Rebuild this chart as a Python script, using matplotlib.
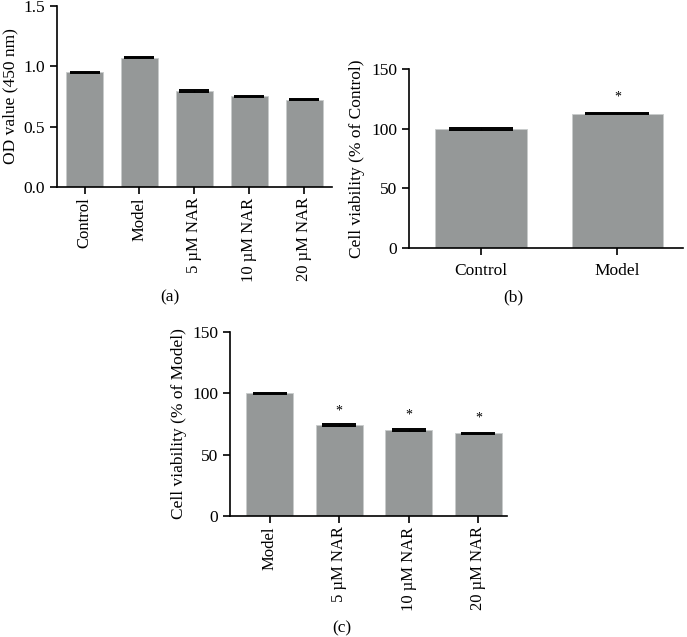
import matplotlib
matplotlib.use("Agg")
import matplotlib.pyplot as plt

plt.rcParams['font.family'] = ['Liberation Serif', 'DejaVu Serif']

# panel (a) OD values
a_groups = ['Control', 'Model', '5 µM NAR', '10 µM NAR', '20 µM NAR']
a_values = [0.95, 1.07, 0.795, 0.752, 0.722]
a_errors = [0.006, 0.005, 0.005, 0.006, 0.004]

# panel (b) viability, % of control
b_groups = ['Control', 'Model']
b_values = [100.0, 112.5]
b_errors = [0.8, 0.6]
b_stars = [None, 126.5]

# panel (c) viability, % of model
c_groups = ['Model', '5 µM NAR', '10 µM NAR', '20 µM NAR']
c_values = [100.0, 74.5, 70.2, 67.5]
c_errors = [0.5, 0.8, 0.8, 0.5]
c_stars = [None, 85.5, 82.3, 80.0]

bar_color = '#959898'

fig = plt.figure(figsize=(6.87, 6.37), dpi=100)


def style(ax):
    for s in ['top', 'right']:
        ax.spines[s].set_visible(False)
    ax.spines['left'].set_linewidth(1.2)
    ax.spines['bottom'].set_linewidth(1.2)
    ax.tick_params(direction='out', length=5, width=1.2, labelsize=12.5)
    ax.tick_params(axis='x', pad=2.5)


def bars(ax, groups, values, errors, cap):
    x = list(range(len(groups)))
    ax.bar(x, values, width=0.67, color=bar_color, edgecolor='#c8cbcb', linewidth=0.6, zorder=2)
    ax.errorbar(x, values, yerr=errors, fmt='none', ecolor='black', elinewidth=1,
                capsize=cap, capthick=1.4, zorder=3)
    ax.set_xticks(x)
    return x


# (a)
ax1 = fig.add_axes([0.083, 0.7064, 0.40, 0.2842])
x = bars(ax1, a_groups, a_values, a_errors, 11)
ax1.set_xticklabels(a_groups, rotation=90, fontsize=12)
ax1.set_xlim(-0.5, 4.5)
ax1.set_ylim(0, 1.5)
ax1.set_yticks([0.0, 0.5, 1.0, 1.5])
ax1.set_yticklabels(['0.0', '0.5', '1.0', '1.5'])
ax1.set_ylabel('OD value (450 nm)', fontsize=12.5)
style(ax1)
ax1.tick_params(axis='x', labelsize=12)
fig.text(0.247, 0.533, '(a)', ha='center', va='center', fontsize=12.5)

# (b)
ax2 = fig.add_axes([0.595, 0.6107, 0.399, 0.281])
x = bars(ax2, b_groups, b_values, b_errors, 23)
for xi, s in zip(x, b_stars):
    if s is not None:
        ax2.text(xi, s, '*', ha='center', va='center', fontsize=10)
ax2.set_xticklabels(b_groups)
ax2.set_xlim(-0.53, 1.48)
ax2.set_ylim(0, 150)
ax2.set_yticks([0, 50, 100, 150])
ax2.set_ylabel('Cell viability (% of Control)', fontsize=12.5)
style(ax2)
ax2.tick_params(axis='x', pad=6)
fig.text(0.747, 0.533, '(b)', ha='center', va='center', fontsize=12.5)

# (c)
ax3 = fig.add_axes([0.3348, 0.19, 0.403, 0.2888])
x = bars(ax3, c_groups, c_values, c_errors, 12)
for xi, s in zip(x, c_stars):
    if s is not None:
        ax3.text(xi, s, '*', ha='center', va='center', fontsize=10)
ax3.set_xticklabels(c_groups, rotation=90)
ax3.set_xlim(-0.57, 3.41)
ax3.set_ylim(0, 150)
ax3.set_yticks([0, 50, 100, 150])
ax3.set_ylabel('Cell viability (% of Model)', fontsize=12.5)
style(ax3)
ax3.tick_params(axis='x', labelsize=12)
fig.text(0.498, 0.014, '(c)', ha='center', va='center', fontsize=12.5)

fig.savefig('out.png', dpi=100)
